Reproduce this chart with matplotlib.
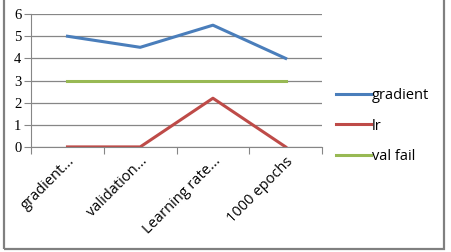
import matplotlib.pyplot as plt
from matplotlib.patches import Rectangle

categories = ['gradient...', 'validation...', 'Learning rate...', '1000 epochs']
gradient = [5, 4.5, 5.5, 4]
lr = [0, 0, 2.2, 0]
val_fail = [3, 3, 3, 3]

fig = plt.figure(figsize=(4.51, 2.52), dpi=100)
ax = fig.add_axes([0.069, 0.417, 0.645, 0.527])

x = range(len(categories))
ax.plot(x, gradient, color='#4A7EBB', lw=2.2, label='gradient')
ax.plot(x, lr, color='#BE4B48', lw=2.2, label='lr')
ax.plot(x, val_fail, color='#98B954', lw=2.2, label='val fail')

ax.set_xlim(-0.5, 3.5)
ax.set_ylim(0, 6)
ax.set_yticks(range(7))
ax.set_yticklabels([str(v) for v in range(7)], fontfamily='Liberation Serif', fontsize=10.5)
ax.grid(axis='y', color='#868686', lw=0.9)
ax.set_axisbelow(True)

ax.set_xticks([-0.5, 0.5, 1.5, 2.5, 3.5], minor=False)
ax.set_xticklabels([])
ax.set_xticks(list(x), minor=True)
ax.set_xticklabels(categories, minor=True, rotation=45, ha='right',
                   rotation_mode='anchor', fontfamily='Open Sans', fontsize=10.5)
ax.tick_params(axis='x', which='minor', length=0, pad=5)
ax.tick_params(axis='x', which='major', length=5, color='#868686', direction='out')
ax.tick_params(axis='y', length=5, color='#868686', pad=2)

for s in ['top', 'right']:
    ax.spines[s].set_visible(False)
ax.spines['left'].set_color('#868686')
ax.spines['bottom'].set_color('#868686')

fig.legend(loc='center left', bbox_to_anchor=(0.715, 0.5), frameon=False,
           prop={'family': 'Open Sans', 'size': 10.5}, handlelength=2.4,
           handletextpad=0.1, labelspacing=1.05)

fig.patches.append(Rectangle((0.008, 0.01), 0.976, 1.0, transform=fig.transFigure,
                             fill=False, edgecolor='#808080', lw=1.6))

fig.savefig('out.png', dpi=100)
